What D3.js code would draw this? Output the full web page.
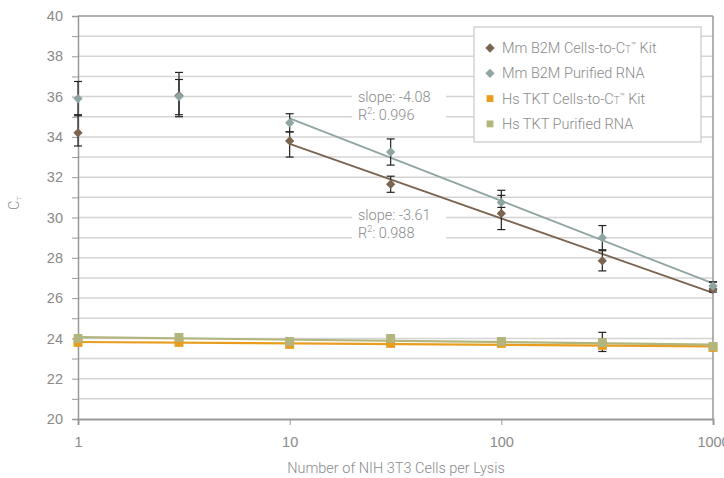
<!DOCTYPE html>
<html>
<head>
<meta charset="utf-8">
<script src="https://cdn.jsdelivr.net/npm/d3@7"></script>
<style>
  body { margin: 0; background: #fff; }
  svg { font-family: Roboto, 'Liberation Sans', sans-serif; font-weight: 300; }
  .tick text { fill: #8a8a8a; font-size: 14.5px; }
  .lbl { fill: #8a8a8a; font-size: 14.5px; }
</style>
</head>
<body>
<svg width="724" height="478"></svg>
<script>
const svg = d3.select('svg');

// cells per lysis
const cells = [1, 3, 10, 30, 100, 300, 1000];

// Mm B2M Cells-to-CT Kit
const mmKit = [34.2, 36.05, 33.8, 31.65, 30.2, 27.85, 26.45];
const mmKitHi = [35.1, 36.85, 34.25, 32.05, 31.1, 28.35, 26.8];
const mmKitLo = [33.55, 35.0, 33.0, 31.25, 29.4, 27.35, 26.3];

// Mm B2M Purified RNA
const mmRna = [35.9, 36.0, 34.7, 33.25, 30.75, 29.0, 26.6];
const mmRnaHi = [36.75, 37.2, 35.15, 33.9, 31.35, 29.6, 26.8];
const mmRnaLo = [35.05, 35.1, 34.25, 32.6, 30.5, 28.4, 26.4];

// Hs TKT Cells-to-CT Kit
const tktKit = [23.8, 23.8, 23.7, 23.75, 23.75, 23.65, 23.55];
const tktKitHi = [23.9, 23.9, 23.8, 23.85, 23.85, 23.75, 23.65];
const tktKitLo = [23.7, 23.7, 23.6, 23.65, 23.65, 23.55, 23.45];

// Hs TKT Purified RNA
const tktRna = [24.0, 24.05, 23.85, 24.0, 23.85, 23.8, 23.6];
const tktRnaHi = [24.05, 24.15, 23.9, 24.1, 23.95, 24.3, 23.7];
const tktRnaLo = [23.95, 23.9, 23.8, 23.9, 23.75, 23.35, 23.5];

const yTicks = [20, 22, 24, 26, 28, 30, 32, 34, 36, 38, 40];
const xTicks = [1, 10, 100, 1000];

const series = [
    { name: 'Mm B2M Cells-to-C', tm: true, color: '#7b6450', shape: 'diamond', v: mmKit, hi: mmKitHi, lo: mmKitLo, fitFrom: 2, slope: '-3.61', r2: '0.988' },
    { name: 'Mm B2M Purified RNA', tm: false, color: '#8fa5a3', shape: 'diamond', v: mmRna, hi: mmRnaHi, lo: mmRnaLo, fitFrom: 2, slope: '-4.08', r2: '0.996' },
    { name: 'Hs TKT Cells-to-C', tm: true, color: '#e89d1f', shape: 'square', v: tktKit, hi: tktKitHi, lo: tktKitLo, fitFrom: 0 },
    { name: 'Hs TKT Purified RNA', tm: false, color: '#b2b67c', shape: 'square', v: tktRna, hi: tktRnaHi, lo: tktRnaLo, fitFrom: 0 }
];

const margin = { top: 16, left: 78, right: 11, bottom: 59 };
const width = 724 - margin.left - margin.right;
const height = 478 - margin.top - margin.bottom;

const x = d3.scaleLog().domain([1, 1000]).range([0, width]);
const y = d3.scaleLinear().domain([20, 40]).range([height, 0]);

const g = svg.append('g').attr('transform', `translate(${margin.left},${margin.top})`);

// gridlines every 1 unit
g.append('g')
    .selectAll('line').data(d3.range(21, 40))
    .enter().append('line')
        .attr('x1', 0).attr('x2', width)
        .attr('y1', d => y(d)).attr('y2', d => y(d))
        .attr('stroke', '#d4d4d4').attr('stroke-width', 1.5);

// frame top/right
g.append('line').attr('x1', 0).attr('x2', width).attr('y1', 0).attr('y2', 0)
    .attr('stroke', '#999').attr('stroke-width', 1.5);
g.append('line').attr('x1', width).attr('x2', width).attr('y1', 0).attr('y2', height)
    .attr('stroke', '#999').attr('stroke-width', 1.5);

// y axis: minor ticks every unit, labels every 2
const yAxisG = g.append('g').call(d3.axisLeft(y).tickValues(d3.range(20, 41)).tickSize(6).tickPadding(9)
    .tickFormat(d => yTicks.includes(d) ? d : ''));
yAxisG.select('.domain').attr('stroke', '#999').attr('stroke-width', 1.5);
yAxisG.selectAll('.tick line').attr('stroke', '#999');

const xAxisG = g.append('g').attr('transform', `translate(0,${height})`)
    .call(d3.axisBottom(x).tickValues(xTicks).tickFormat(d3.format('d')).tickSize(6).tickPadding(9));
xAxisG.select('.domain').attr('stroke', '#999').attr('stroke-width', 2);
xAxisG.selectAll('.tick line').attr('stroke', '#999');
xAxisG.selectAll('.tick text').attr('dy', '0.9em');

// axis titles
svg.append('text').attr('class', 'lbl')
    .attr('x', 396).attr('y', 473)
    .attr('text-anchor', 'middle')
    .text('Number of NIH 3T3 Cells per Lysis');

const yt = svg.append('text').attr('class', 'lbl')
    .attr('transform', 'translate(19,203) rotate(-90)')
    .attr('text-anchor', 'middle');
yt.append('tspan').text('C');
yt.append('tspan').attr('font-size', '8px').attr('dy', '3').text('T');

// regression on log10(x)
const fit = (xs, ys) => {
    const lx = xs.map(Math.log10);
    const mx = d3.mean(lx), my = d3.mean(ys);
    const b = d3.sum(lx, (v, i) => (v - mx) * (ys[i] - my)) / d3.sum(lx, v => (v - mx) ** 2);
    return { b, a: my - b * mx };
};

const symbol = (s, big) => d3.symbol()
    .type(s.shape === 'diamond' ? d3.symbolDiamond2 : d3.symbolSquare2)
    .size(s.shape === 'diamond' ? 55 : big)();

// trendlines
series.forEach(s => {
    const xs = cells.slice(s.fitFrom), ys = s.v.slice(s.fitFrom);
    const f = fit(xs, ys);
    const x0 = xs[0], x1 = xs[xs.length - 1];
    g.append('line')
        .attr('x1', x(x0)).attr('y1', y(f.a + f.b * Math.log10(x0)))
        .attr('x2', x(x1)).attr('y2', y(f.a + f.b * Math.log10(x1)))
        .attr('stroke', s.color).attr('stroke-width', s.shape === 'square' ? 2.2 : 1.8);
});

// error bars
series.forEach(s => {
    const eg = g.append('g').attr('stroke', '#222').attr('stroke-width', 1.2);
    cells.forEach((c, i) => {
        const cx = x(c);
        eg.append('line').attr('x1', cx).attr('x2', cx).attr('y1', y(s.hi[i])).attr('y2', y(s.lo[i]));
        [s.hi[i], s.lo[i]].forEach(v => {
            eg.append('line').attr('x1', cx - 4).attr('x2', cx + 4).attr('y1', y(v)).attr('y2', y(v));
        });
    });
});

// markers
series.forEach(s => {
    g.append('g').selectAll('path').data(cells)
        .enter().append('path')
            .attr('d', symbol(s, 100))
            .attr('transform', (c, i) => `translate(${x(c)},${y(s.v[i])})`)
            .attr('fill', s.color);
});

// slope annotations
const notes = [
    { s: series[1], px: 358, py: 97 },
    { s: series[0], px: 358, py: 215 }
];
notes.forEach(n => {
    svg.append('rect').attr('x', n.px - 6).attr('y', n.py - 12).attr('width', 94).attr('height', 40).attr('fill', '#fff');
    svg.append('text').attr('class', 'lbl').attr('font-size', '15.5px').attr('x', n.px).attr('y', n.py + 5).text(`slope: ${n.s.slope}`);
    const t = svg.append('text').attr('class', 'lbl').attr('font-size', '15.5px').attr('x', n.px).attr('y', n.py + 23);
    t.append('tspan').text('R');
    t.append('tspan').attr('font-size', '9px').attr('dy', '-6').text('2');
    t.append('tspan').attr('dy', '6').text(`: ${n.s.r2}`);
});

// legend
const lg = svg.append('g').attr('transform', 'translate(474,27)');
lg.append('rect').attr('width', 227).attr('height', 115)
    .attr('fill', '#fff').attr('stroke', '#c8c8c8').attr('stroke-width', 1.2);
series.forEach((s, i) => {
    const row = lg.append('g').attr('transform', `translate(0,${21 + i * 25.3})`);
    row.append('path')
        .attr('d', symbol(s, 60))
        .attr('transform', 'translate(16,0)')
        .attr('fill', s.color);
    const t = row.append('text').attr('class', 'lbl').attr('x', 28).attr('y', 5);
    t.append('tspan').text(s.name);
    if (s.tm) {
        t.append('tspan').attr('font-size', '10px').text('T');
        t.append('tspan').attr('font-size', '8px').attr('dy', '-5').text('™');
        t.append('tspan').attr('dy', '5').text(' Kit');
    }
});
</script>
</body>
</html>
